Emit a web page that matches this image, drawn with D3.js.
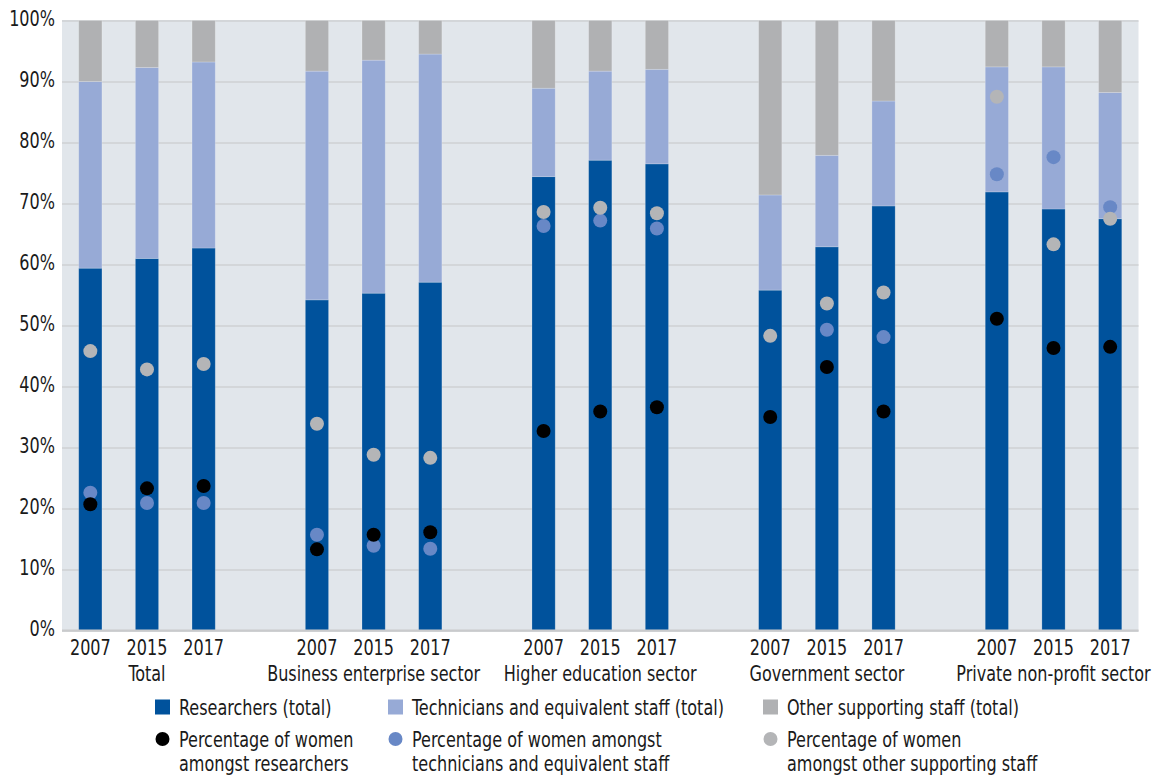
<!DOCTYPE html>
<html>
<head>
<meta charset="utf-8">
<script src="https://cdn.jsdelivr.net/npm/d3@7"></script>
<style>
  body { margin: 0; background: #fff; }
  text { font-family: "DejaVu Sans Condensed", "Liberation Sans Narrow", "Arial Narrow", sans-serif; fill: #1a1a1a; }
</style>
</head>
<body>
<svg id="chart" width="1158" height="781"></svg>
<script>
// ---- data ----
const groups = ["Total", "Business enterprise sector", "Higher education sector", "Government sector", "Private non-profit sector"];
const years = ["2007", "2015", "2017"];
// shares of total R&D personnel (%), per group, per year
const researchers = [
  [59.4, 61.0, 62.7],
  [54.2, 55.3, 57.1],
  [74.4, 77.1, 76.5],
  [55.8, 62.9, 69.6],
  [71.9, 69.1, 67.5]
];
const technicians = [
  [30.6, 31.3, 30.5],
  [37.5, 38.2, 37.4],
  [14.5, 14.6, 15.5],
  [15.6, 15.0, 17.2],
  [20.5, 23.3, 20.7]
];
const otherStaff = [
  [10.0, 7.7, 6.8],
  [8.3, 6.5, 5.5],
  [11.1, 8.3, 8.0],
  [28.6, 22.1, 13.2],
  [7.6, 7.6, 11.8]
];
// percentage of women
const womenResearchers = [
  [20.7, 23.3, 23.7],
  [13.3, 15.7, 16.1],
  [32.7, 35.9, 36.6],
  [35.0, 43.2, 35.9],
  [51.1, 46.3, 46.5]
];
const womenTechnicians = [
  [22.6, 20.9, 20.9],
  [15.7, 13.9, 13.4],
  [66.3, 67.2, 65.9],
  [null, 49.3, 48.1],
  [74.8, 77.6, 69.4]
];
const womenOther = [
  [45.8, 42.8, 43.7],
  [33.9, 28.8, 28.3],
  [68.6, 69.3, 68.4],
  [48.3, 53.6, 55.4],
  [87.5, 63.3, 67.5]
];
const yTicks = [0, 10, 20, 30, 40, 50, 60, 70, 80, 90, 100];

const legendItems = [
  { type: "rect", key: "res", lines: ["Researchers (total)"] },
  { type: "rect", key: "tech", lines: ["Technicians and equivalent staff (total)"] },
  { type: "rect", key: "other", lines: ["Other supporting staff (total)"] },
  { type: "dot", key: "wres", lines: ["Percentage of women", "amongst researchers"] },
  { type: "dot", key: "wtech", lines: ["Percentage of women amongst", "technicians and equivalent staff"] },
  { type: "dot", key: "wother", lines: ["Percentage of women", "amongst other supporting staff"] }
];

// ---- style ----
const colors = {
  res: "#00529c", tech: "#97aad6", other: "#b0b1b3",
  wres: "#000000", wtech: "#6888c6", wother: "#b4b5b7"
};
const SX = 0.85; // horizontal condensing of text

const svg = d3.select("#chart");
const plot = { left: 62, right: 1138.5, top: 20.5, bottom: 630.5 };

// slots: 3 bars per group plus one empty slot between groups
const rows = [];
groups.forEach((g, gi) => years.forEach((yr, yi) => {
  rows.push({
    group: g, gi, year: yr, yi, slot: gi * 4 + yi,
    res: researchers[gi][yi], tech: technicians[gi][yi], other: otherStaff[gi][yi],
    wres: womenResearchers[gi][yi], wtech: womenTechnicians[gi][yi], wother: womenOther[gi][yi]
  });
}));
const nSlots = groups.length * 4 - 1;

const x = d3.scaleBand().domain(d3.range(nSlots)).range([plot.left, plot.right])
  .paddingInner(0.59).paddingOuter(0.295);
const y = d3.scaleLinear().domain([0, 100]).range([plot.bottom, plot.top]);

// background
svg.append("rect").attr("x", plot.left).attr("y", plot.top)
  .attr("width", plot.right - plot.left).attr("height", plot.bottom - plot.top)
  .attr("fill", "#e1e6eb");

// gridlines
const yAxis = d3.axisLeft(y).tickValues(yTicks).tickFormat(d => d + "%")
  .tickSize(-(plot.right - plot.left)).tickPadding(7);
const ya = svg.append("g").attr("transform", `translate(${plot.left},0)`).call(yAxis);
ya.select(".domain").remove();
ya.selectAll(".tick line").attr("stroke", "#d3d6d9").attr("stroke-width", 2);
ya.selectAll(".tick text").attr("font-size", 21).attr("dy", "0.26em").attr("x", -7).attr("fill", "#1a1a1a");

// stacked bars
const stack = d3.stack().keys(["res", "tech", "other"]);
const series = stack(rows);
svg.append("g").selectAll("g").data(series).join("g")
  .attr("fill", s => colors[s.key])
  .selectAll("rect").data(s => s).join("rect")
  .attr("x", d => x(d.data.slot))
  .attr("width", x.bandwidth())
  .attr("y", d => y(d[1]))
  .attr("height", d => y(d[0]) - y(d[1]))
  .attr("stroke", "#ffffff").attr("stroke-opacity", 0.25).attr("stroke-width", 0.8);

// x axis baseline
svg.append("line").attr("x1", plot.left).attr("x2", plot.right)
  .attr("y1", plot.bottom).attr("y2", plot.bottom)
  .attr("stroke", "#c9cacc").attr("stroke-width", 2);

// dots
const dotKeys = ["wtech", "wother", "wres"];
dotKeys.forEach(k => {
  svg.append("g").selectAll("circle").data(rows.filter(r => r[k] != null)).join("circle")
    .attr("cx", d => x(d.slot) + x.bandwidth() / 2)
    .attr("cy", d => y(d[k]))
    .attr("r", 7)
    .attr("fill", colors[k]);
});

// x labels
const xa = svg.append("g").attr("transform", `translate(0,${plot.bottom})`)
  .call(d3.axisBottom(x).tickValues(rows.map(r => r.slot))
    .tickFormat(s => rows.find(r => r.slot === s).year).tickSize(0).tickPadding(10));
xa.select(".domain").remove();
xa.selectAll(".tick text").attr("font-size", 21).attr("fill", "#1a1a1a").attr("dy", "0.71em");

svg.append("g").selectAll("text").data(groups).join("text")
  .attr("x", (g, gi) => x(gi * 4 + 1) + x.bandwidth() / 2)
  .attr("y", 681)
  .attr("text-anchor", "middle").attr("font-size", 21)
  .text(g => g);

// legend
const legX = [155, 388, 763];
const legY = [707, 739];
const leg = svg.append("g");
legendItems.forEach((it, i) => {
  const col = i % 3, row = Math.floor(i / 3);
  const gx = legX[col], cy = legY[row];
  if (it.type === "rect") {
    leg.append("rect").attr("x", gx).attr("y", cy - 7.5).attr("width", 15).attr("height", 15)
      .attr("fill", colors[it.key]);
  } else {
    leg.append("circle").attr("cx", gx + 7.5).attr("cy", cy).attr("r", 7).attr("fill", colors[it.key]);
  }
  it.lines.forEach((ln, li) => {
    leg.append("text").attr("x", gx + 24).attr("y", cy + 8 + li * 24)
      .attr("font-size", 21).text(ln);
  });
});

// condense all text horizontally around its anchor point
svg.selectAll("text").each(function () {
  const t = d3.select(this);
  const tx = +t.attr("x") || 0;
  t.attr("transform", `translate(${tx * (1 - SX)},0) scale(${SX},1)`);
});
</script>
</body>
</html>
